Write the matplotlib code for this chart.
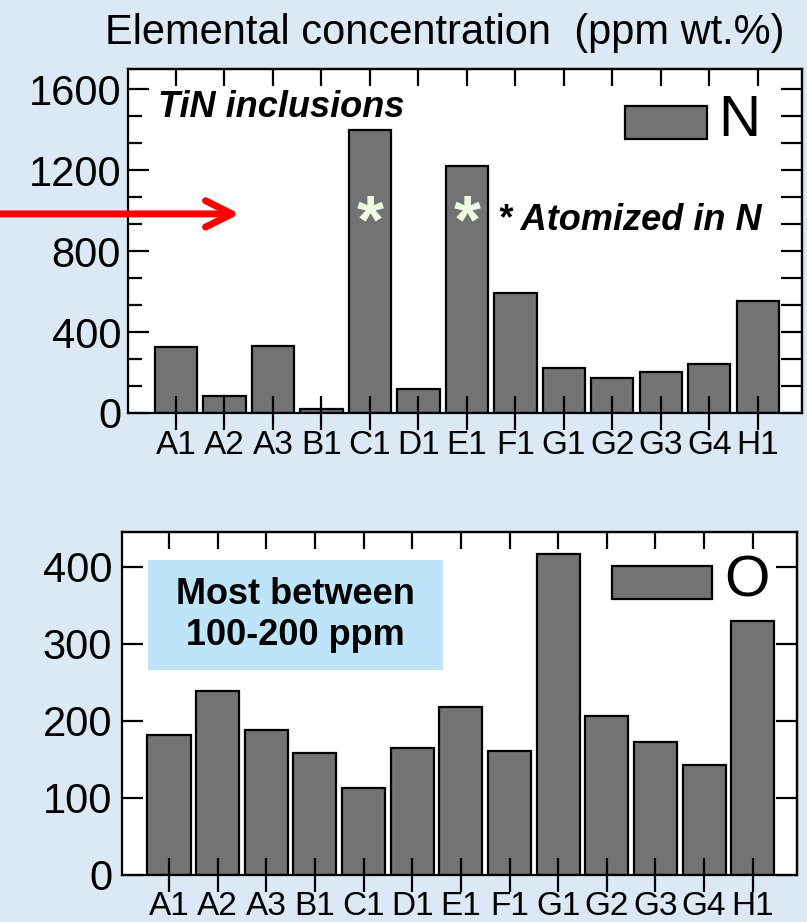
import numpy as np
import matplotlib
matplotlib.use('Agg')
import matplotlib.pyplot as plt
from matplotlib.ticker import MultipleLocator, AutoMinorLocator, NullFormatter
from matplotlib.patches import Rectangle, FancyArrowPatch

plt.rcParams['font.family'] = ['Liberation Sans', 'DejaVu Sans']

SAMPLES = ['A1', 'A2', 'A3', 'B1', 'C1', 'D1', 'E1', 'F1', 'G1', 'G2', 'G3', 'G4', 'H1']
N_PPM = [325, 85, 330, 20, 1400, 120, 1220, 595, 220, 172, 200, 242, 553]
O_PPM = [181, 239, 188, 158, 113, 165, 218, 161, 416, 206, 173, 143, 329]
ATOMIZED_IN_N = ['C1', 'E1']

BG = '#dce9f5'
BAR = '#737373'
BOX = '#bee4fa'
LW = 1.6


def frame(ax, ylim, xlim, xpad, ypad):
    ax.set_xlim(*xlim)
    ax.set_ylim(*ylim)
    for s in ax.spines.values():
        s.set_linewidth(LW)
    ax.tick_params(axis='x', which='major', direction='inout', length=25, width=LW,
                   labelsize=24, pad=xpad, top=False)
    ax.tick_params(axis='y', which='major', direction='in', length=15, width=LW,
                   labelsize=30, pad=ypad, right=False)
    ax.tick_params(axis='y', which='minor', direction='in', length=10, width=LW, right=False)
    top = ax.secondary_xaxis('top')
    top.set_xticks(ax.get_xticks())
    top.xaxis.set_major_formatter(NullFormatter())
    top.tick_params(direction='in', length=12, width=LW)
    top.spines['top'].set_linewidth(LW)
    return top


def right_ticks(ax, step):
    right = ax.secondary_yaxis('right')
    right.yaxis.set_major_locator(MultipleLocator(step))
    right.yaxis.set_major_formatter(NullFormatter())
    right.tick_params(direction='in', length=15, width=LW)
    right.spines['right'].set_linewidth(LW)
    return right


def big_legend(ax, anchor, handlelength, drop):
    leg = ax.legend(loc='center left', bbox_to_anchor=anchor, frameon=False, fontsize=42,
                    handlelength=handlelength, handleheight=0.51, handletextpad=0.2,
                    borderpad=0, borderaxespad=0)
    # sit the swatch a little lower than the letter
    h = leg.legend_handles[0]
    h.set_y(h.get_y() - drop)
    return leg


fig = plt.figure(figsize=(8.07, 9.22), dpi=100, facecolor=BG)
ax_n = fig.add_axes([0.1586, 0.5521, 0.8352, 0.3731])
ax_o = fig.add_axes([0.1512, 0.0510, 0.8364, 0.3720])

x = np.arange(len(SAMPLES))

# --- nitrogen ---
ax_n.bar(x, N_PPM, width=0.87, color=BAR, edgecolor='black', linewidth=1.6, label='N')
ax_n.set_xticks(x, SAMPLES)
ax_n.yaxis.set_major_locator(MultipleLocator(400))
ax_n.yaxis.set_minor_locator(AutoMinorLocator(3))
frame(ax_n, (0, 1700), (-0.99, 12.91), xpad=0, ypad=5)
right_ticks(ax_n, 400 / 3)
big_legend(ax_n, (0.737, 0.850), 1.41, 5.5)

ax_n.text(0.0445, 0.860, 'TiN inclusions', transform=ax_n.transAxes, fontsize=26,
          fontweight='bold', fontstyle='italic', va='baseline', ha='left')
ax_n.text(0.549, 0.532, '* Atomized in N', transform=ax_n.transAxes, fontsize=26,
          fontweight='bold', fontstyle='italic', va='baseline', ha='left')
for s in ATOMIZED_IN_N:
    ax_n.text(SAMPLES.index(s), 845, '*', fontsize=50, fontweight='bold',
              color='#eefbe2', ha='center', va='baseline')

# --- oxygen ---
ax_o.bar(x, O_PPM, width=0.885, color=BAR, edgecolor='black', linewidth=1.6, label='O')
ax_o.set_xticks(x, SAMPLES)
ax_o.yaxis.set_major_locator(MultipleLocator(100))
frame(ax_o, (0, 445), (-0.966, 12.91), xpad=-1, ypad=7)
right_ticks(ax_o, 100)
big_legend(ax_o, (0.726, 0.856), 1.72, 5.0)

ax_o.add_patch(Rectangle((0.0385, 0.598), 0.437, 0.321, transform=ax_o.transAxes,
                         facecolor=BOX, edgecolor='none', zorder=3))
ax_o.text(0.257, 0.758, 'Most between\n100-200 ppm', transform=ax_o.transAxes,
          fontsize=26, fontweight='bold', ha='center', va='center',
          multialignment='center', linespacing=1.2, zorder=4)

fig.text(0.5508, 1 - 44 / 922, 'Elemental concentration  (ppm wt.%)',
         ha='center', va='baseline', fontsize=30)

arrow = FancyArrowPatch((0.0, 0.768), (0.297, 0.768), transform=fig.transFigure,
                        arrowstyle='->,head_length=19,head_width=9.5', mutation_scale=1,
                        color='#ff0000', lw=5, shrinkA=0, shrinkB=0,
                        capstyle='round', joinstyle='round')
fig.add_artist(arrow)

fig.savefig('out.png', dpi=100, facecolor=BG)
